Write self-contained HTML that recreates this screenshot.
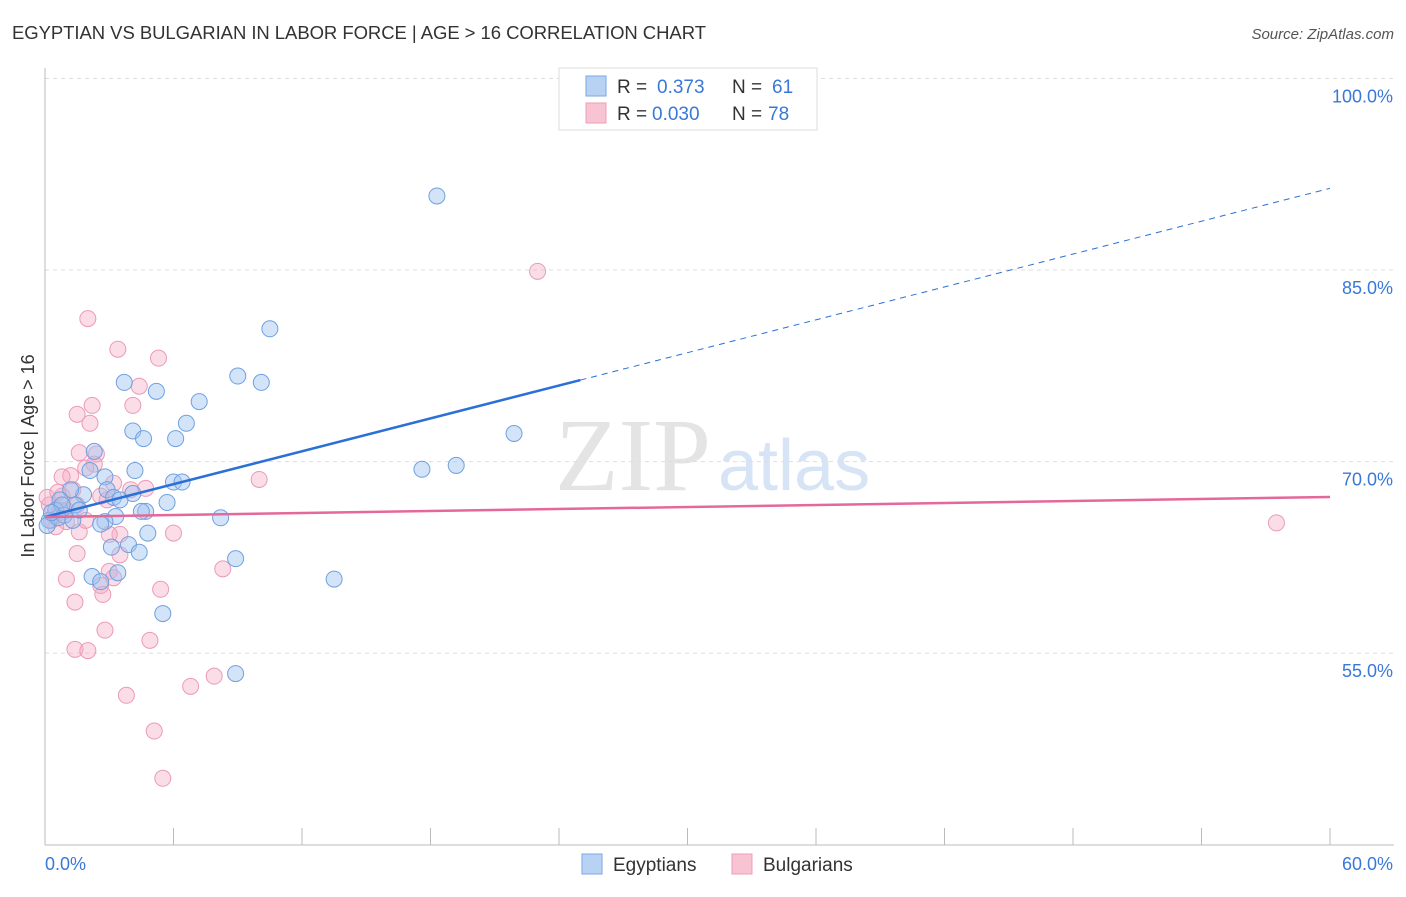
<!DOCTYPE html>
<html><head><meta charset="utf-8"><style>
body{margin:0;background:#fff;font-family:"Liberation Sans",sans-serif;}
svg text{font-family:"Liberation Sans",sans-serif;}
</style></head><body>
<svg id="c" width="1406" height="892">
<text x="12" y="39" font-size="18.5" fill="#333" textLength="694">EGYPTIAN VS BULGARIAN IN LABOR FORCE | AGE &gt; 16 CORRELATION CHART</text>
<text x="1394" y="39" font-size="15" fill="#555" text-anchor="end" font-style="italic">Source: ZipAtlas.com</text>
<text x="555" y="490" font-size="104" fill="#e4e4e4" style="font-family:'Liberation Serif',serif">ZIP</text>
<text x="718" y="490" font-size="72" fill="#d6e4f5">atlas</text>
<g id="grid"></g><g id="axes"></g><g id="pts"></g><g id="trend"></g>
<text x="34" y="456" font-size="18" fill="#333" text-anchor="middle" transform="rotate(-90 34 456)">In Labor Force | Age &gt; 16</text>
<g>
<rect x="559" y="68" width="258" height="62" fill="#fff" stroke="#ddd"/>
<rect x="586" y="76" width="20" height="20" fill="#b8d2f4" stroke="#7aa8e4"/>
<rect x="586" y="103" width="20" height="20" fill="#f8c4d4" stroke="#ec9cb8"/>
<text x="617" y="93" font-size="19" fill="#333">R = </text><text x="657" y="93" font-size="19" fill="#3a78d8">0.373</text>
<text x="732" y="93" font-size="19" fill="#333">N = </text><text x="772" y="93" font-size="19" fill="#3a78d8">61</text>
<text x="617" y="120" font-size="19" fill="#333">R = </text><text x="652" y="120" font-size="19" fill="#3a78d8">0.030</text>
<text x="732" y="120" font-size="19" fill="#333">N = </text><text x="768" y="120" font-size="19" fill="#3a78d8">78</text>
</g>
<g>
<rect x="582" y="854" width="20" height="20" fill="#b8d2f4" stroke="#7aa8e4"/>
<text x="613" y="871" font-size="19" fill="#333">Egyptians</text>
<rect x="732" y="854" width="20" height="20" fill="#f8c4d4" stroke="#ec9cb8"/>
<text x="763" y="871" font-size="19" fill="#333">Bulgarians</text>
</g>
</svg>
<script>
const yTicks=[100,85,70,55];
const xTickLabels=["0.0%","60.0%"];
const egyX=[18.3,10.5,3.7,5.2,9.0,10.1,7.2,6.6,4.1,4.6,6.1,2.3,4.2,2.1,2.8,6.0,6.4,2.9,4.1,3.2,3.5,1.8,5.7,4.7,4.5,3.3,8.2,2.8,2.6,4.8,3.9,3.1,4.4,8.9,2.2,3.4,2.6,13.5,5.5,8.9,17.6,19.2,21.9,1.2,0.7,0.5,0.2,0.9,1.4,0.1,0.6,0.8,1.3,1.6,0.3];
const egyY=[90.8,80.4,76.2,75.5,76.7,76.2,74.7,73.0,72.4,71.8,71.8,70.8,69.3,69.3,68.8,68.4,68.4,67.8,67.5,67.2,67.0,67.4,66.8,66.1,66.1,65.7,65.6,65.3,65.1,64.4,63.5,63.3,62.9,62.4,61.0,61.3,60.6,60.8,58.1,53.4,69.4,69.7,72.2,67.8,67.0,66.2,65.4,65.8,66.6,65.0,65.6,66.6,65.4,66.2,66.0];
const bulX=[23.0,2.0,3.4,5.3,4.4,2.2,4.1,1.5,2.1,1.6,2.4,2.3,1.9,1.2,0.8,3.2,4.0,4.7,10.0,2.6,2.9,1.3,1.5,0.7,1.0,0.5,1.6,3.5,3.0,6.0,1.5,3.5,1.0,8.3,3.0,3.2,2.6,2.7,5.4,1.4,2.8,4.9,1.4,2.0,3.8,6.8,7.9,5.1,5.5,57.5,0.2,0.5,0.1,0.8,1.0,0.6,0.3,1.9];
const bulY=[84.9,81.2,78.8,78.1,75.9,74.4,74.4,73.7,73.0,70.7,70.6,69.8,69.5,68.9,68.8,68.3,67.8,67.9,68.6,67.3,67.0,67.8,66.6,66.2,65.3,64.9,64.5,64.3,64.3,64.4,62.8,62.7,60.8,61.6,61.4,60.9,60.3,59.6,60.0,59.0,56.8,56.0,55.3,55.2,51.7,52.4,53.2,48.9,45.2,65.2,66.6,65.8,67.2,67.3,66.2,67.6,65.4,65.4];
const egyTrend=[65.66,91.4];
const bulTrend=[65.66,67.23];
const NS='http://www.w3.org/2000/svg';
const X=v=>45+v/60*1285, Y=v=>78.5+(100-v)*12.77;
function mk(t,a,p){const e=document.createElementNS(NS,t);for(const k in a)e.setAttribute(k,a[k]);document.getElementById(p).appendChild(e);return e;}
yTicks.forEach(t=>{
 const g=mk('line',{x1:45,x2:1394,y1:Y(t),y2:Y(t),stroke:'#ddd','stroke-dasharray':'4,4'},'grid');
 
 
 const l=mk('text',{x:1393,y:Y(t)+24,'font-size':18,fill:'#3a78d8','text-anchor':'end'},'grid');
 l.textContent=t.toFixed(1)+'%';
 
 
});
mk('line',{x1:45,x2:45,y1:68,y2:845,stroke:'#bbb'},'axes');
mk('line',{x1:45,x2:1394,y1:845,y2:845,stroke:'#bbb'},'axes');
for(let i=0;i<=10;i++){const t=mk('line',{x1:X(i*6),x2:X(i*6),y1:828,y2:845,stroke:'#bbb'},'axes');
 
 }
const xl0=mk('text',{x:45,y:870,'font-size':18,fill:'#3a78d8'},'axes');xl0.textContent=xTickLabels[0];


const xl1=mk('text',{x:1393,y:870,'font-size':18,fill:'#3a78d8','text-anchor':'end'},'axes');xl1.textContent=xTickLabels[1];


bulX.forEach((x,i)=>{const c=mk('circle',{cx:X(x),cy:Y(bulY[i]),r:8,fill:'rgba(245,170,195,0.4)',stroke:'#eb9ab7','stroke-width':1},'pts');
 
 });
egyX.forEach((x,i)=>{const c=mk('circle',{cx:X(x),cy:Y(egyY[i]),r:8,fill:'rgba(160,195,240,0.45)',stroke:'#6fa0e0','stroke-width':1},'pts');
 
 });
const sx=25, ey=v=>egyTrend[0]+(egyTrend[1]-egyTrend[0])*v/60;
const t1=mk('line',{x1:X(0),y1:Y(ey(0)),x2:X(sx),y2:Y(ey(sx)),stroke:'#2a70d6','stroke-width':2.5},'trend');


const t2=mk('line',{x1:X(sx),y1:Y(ey(sx)),x2:X(60),y2:Y(ey(60)),stroke:'#2a70d6','stroke-width':1,'stroke-dasharray':'6,5'},'trend');


const t3=mk('line',{x1:X(0),y1:Y(bulTrend[0]),x2:X(60),y2:Y(bulTrend[1]),stroke:'#e4689a','stroke-width':2.5},'trend');


</script>
</body></html>
